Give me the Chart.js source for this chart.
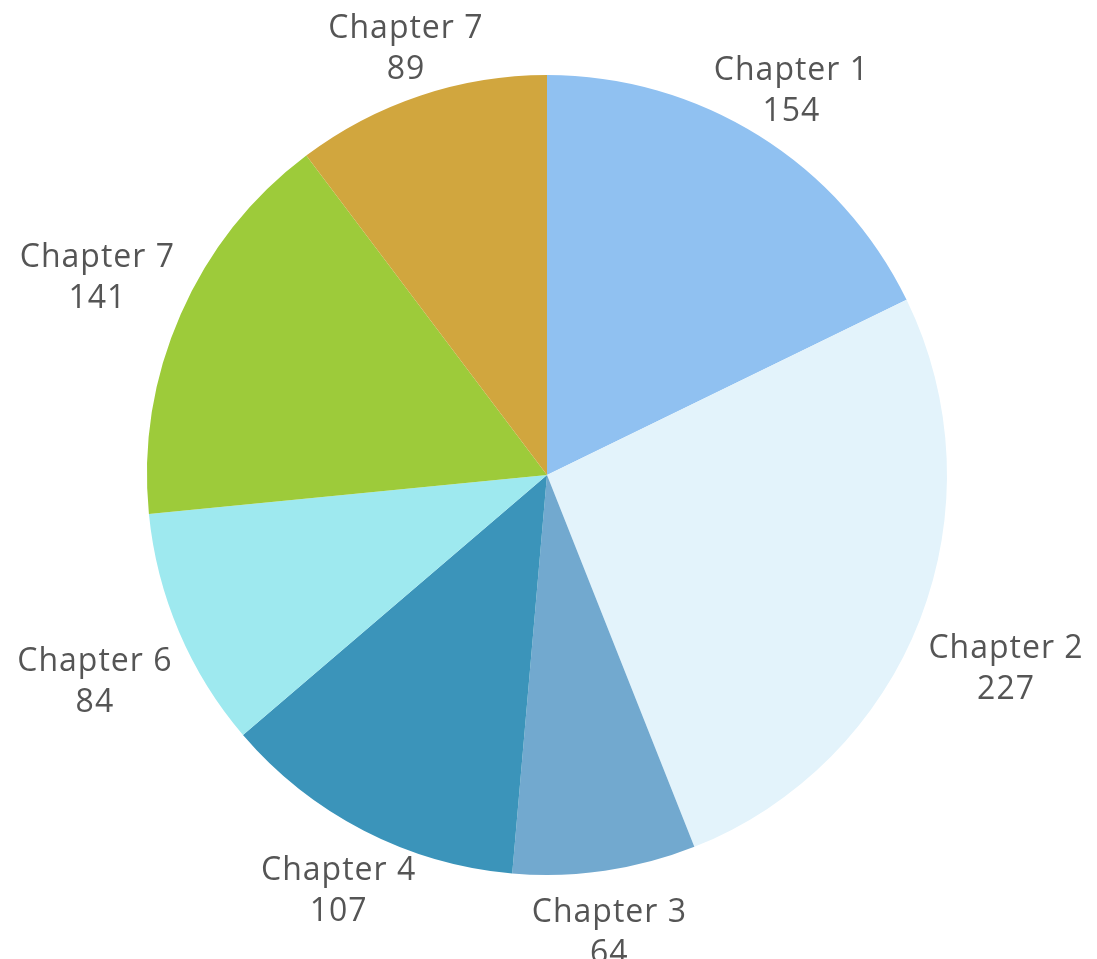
<!DOCTYPE html>
<html>
<head>
<meta charset="utf-8">
<script src="https://cdn.jsdelivr.net/npm/chart.js@4/dist/chart.umd.min.js"></script>
<style>
  html, body { margin: 0; padding: 0; background: #ffffff; }
  #wrap { position: relative; width: 1097px; height: 959px; }
</style>
</head>
<body>
<div id="wrap"><canvas id="pieChart"></canvas></div>
<script>
// Slice labels and values
const chapterLabels = ['Chapter 1', 'Chapter 2', 'Chapter 3', 'Chapter 4', 'Chapter 6', 'Chapter 7', 'Chapter 7'];
const chapterCounts = [154, 227, 64, 107, 84, 141, 89];
const sliceColors = ['#90c1f1', '#e3f3fb', '#72a9cf', '#3b94ba', '#9ee9ef', '#9dcb3a', '#d1a63e'];

// Draw "Chapter N" + value outside each slice, pushed out along the mid-angle
const outsideLabels = {
    id: 'outsideLabels',
    afterDatasetsDraw(chart) {
        const ctx = chart.ctx;
        const meta = chart.getDatasetMeta(0);
        ctx.save();
        ctx.font = '32px "Open Sans", sans-serif';
        ctx.letterSpacing = '1px';
        ctx.fillStyle = '#555555';
        ctx.textAlign = 'center';
        ctx.textBaseline = 'middle';
        meta.data.forEach((arc, i) => {
            const p = arc.getProps(['x', 'y', 'startAngle', 'endAngle', 'outerRadius'], true);
            const mid = (p.startAngle + p.endAngle) / 2;
            const cos = Math.cos(mid), sin = Math.sin(mid);
            const name = chart.data.labels[i];
            const val = String(chart.data.datasets[0].data[i]);
            const halfW = ctx.measureText(name).width / 2;
            const r = p.outerRadius + 20;
            const cx = p.x + r * cos + halfW * cos * Math.abs(cos);
            const cy = p.y + r * sin + 35 * Math.sign(sin) + 7;
            ctx.fillText(name, cx, cy - 20);
            ctx.fillText(val, cx, cy + 21);
        });
        ctx.restore();
    }
};

new Chart(document.getElementById('pieChart').getContext('2d'), {
    type: 'pie',
    data: {
        labels: chapterLabels,
        datasets: [{
            data: chapterCounts,
            backgroundColor: sliceColors,
            borderWidth: 0
        }]
    },
    options: {
        responsive: true,
        maintainAspectRatio: false,
        animation: false,
        layout: { padding: { left: 147, right: 150, top: 75, bottom: 84 } },
        plugins: {
            legend: { display: false },
            tooltip: { enabled: false }
        }
    },
    plugins: [outsideLabels]
});
</script>
</body>
</html>
